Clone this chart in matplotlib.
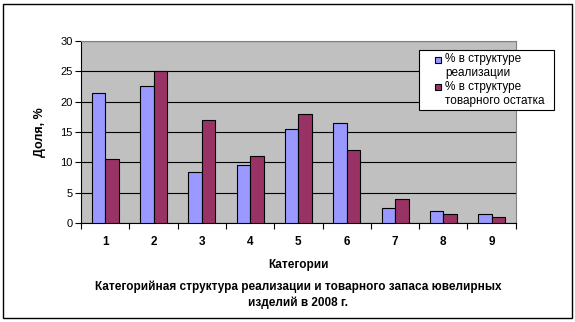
import matplotlib
matplotlib.use("Agg")
import matplotlib.pyplot as plt
import numpy as np
from matplotlib.patches import Rectangle, Patch
from matplotlib.legend_handler import HandlerBase

plt.rcParams['font.family'] = ['Liberation Sans', 'DejaVu Sans']

categories = ['1', '2', '3', '4', '5', '6', '7', '8', '9']
sales_share = [21.5, 22.5, 8.5, 9.5, 15.5, 16.5, 2.5, 2.0, 1.5]
stock_share = [10.5, 25.0, 17.0, 11.0, 18.0, 12.0, 4.0, 1.5, 1.0]
series_labels = ['% в структуре\nреализации', '% в структуре\nтоварного остатка']
series_colors = ['#9999FF', '#993366']
y_ticks = [0, 5, 10, 15, 20, 25, 30]


class FirstLineSquare(HandlerBase):
    """Small square legend key aligned with the first line of a two-line label."""

    def create_artists(self, legend, orig_handle, xdescent, ydescent,
                       width, height, fontsize, trans):
        side = 0.5 * fontsize
        cx = width / 2 - xdescent
        cy = height / 2 - ydescent + 0.6 * fontsize
        sq = Rectangle((cx - side / 2, cy - side / 2), side, side,
                       facecolor=orig_handle.get_facecolor(), edgecolor='black',
                       linewidth=0.8, transform=trans)
        return [sq]


fig = plt.figure(figsize=(5.75, 3.22), dpi=100)
fig.patch.set_facecolor('white')
fig.patches.append(Rectangle((0.005, 0.012), 0.99, 0.976, transform=fig.transFigure,
                             fill=False, edgecolor='black', linewidth=1.0))

ax = fig.add_axes([0.141, 0.307, 0.756, 0.566])
ax.set_facecolor('#C0C0C0')

x = np.arange(len(categories))
w = 0.28
ax.bar(x - w / 2, sales_share, w, color=series_colors[0], edgecolor='black', linewidth=0.8,
       zorder=3)
ax.bar(x + w / 2, stock_share, w, color=series_colors[1], edgecolor='black', linewidth=0.8,
       zorder=3)

ax.set_xlim(-0.5, len(categories) - 0.5)
ax.set_ylim(0, 30)
ax.set_yticks(y_ticks)
ax.set_yticklabels([str(v) for v in y_ticks], fontsize=8)
ax.set_xticks(np.arange(-0.5, len(categories), 1.0))
ax.set_xticklabels([])
ax.set_xticks(x, minor=True)
ax.set_xticklabels(categories, minor=True, fontsize=8.5, fontweight='bold')
ax.tick_params(axis='x', which='minor', length=0, pad=9)
ax.tick_params(axis='x', which='major', length=4, direction='out')
ax.tick_params(axis='y', length=4, direction='out', pad=2)

ax.yaxis.grid(True, color='black', linewidth=0.8, zorder=1)
ax.set_axisbelow(True)
for s in ['top', 'right']:
    ax.spines[s].set_color('#808080')
    ax.spines[s].set_linewidth(0.8)
for s in ['left', 'bottom']:
    ax.spines[s].set_linewidth(0.8)

ax.set_ylabel('Доля, %', fontsize=9, fontweight='bold', labelpad=10)
ax.set_xlabel('Категории', fontsize=8.5, fontweight='bold', labelpad=8)

fig.text(0.518, 0.085, 'Категорийная структура реализации и товарного запаса ювелирных\nизделий в 2008 г.',
         ha='center', va='center', fontsize=8.5, fontweight='bold', linespacing=1.3)

handles = [Patch(facecolor=c, edgecolor='black') for c in series_colors]
leg = ax.legend(handles, series_labels, loc='upper left',
                bbox_to_anchor=(0.777, 0.0, 0.31, 0.951), mode='expand',
                borderaxespad=0, fontsize=8.5,
                frameon=True, fancybox=False, edgecolor='black', framealpha=1,
                handlelength=2.6, handletextpad=-0.7,
                borderpad=0.3, labelspacing=0.15,
                handler_map={Patch: FirstLineSquare()})
leg.get_frame().set_linewidth(0.8)

fig.savefig('out.png', dpi=100, facecolor='white')
